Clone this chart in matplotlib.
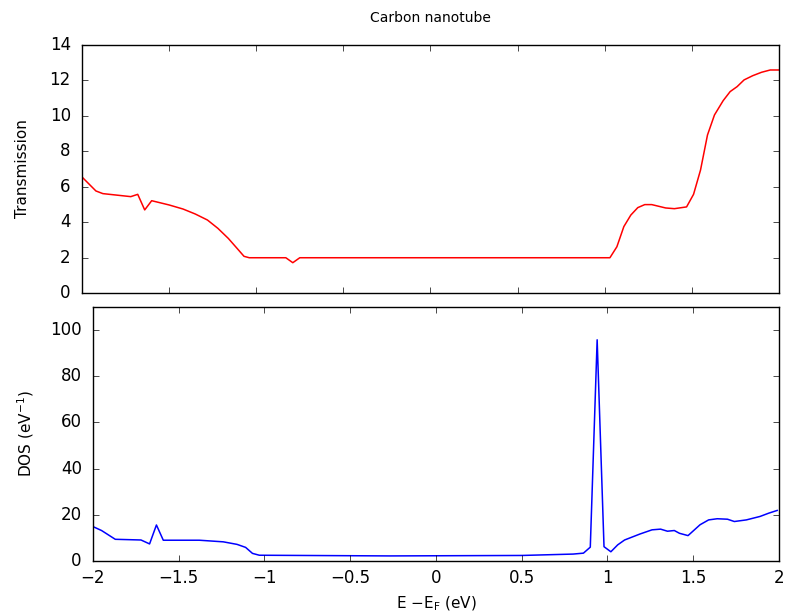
import matplotlib
matplotlib.use("Agg")
import matplotlib.pyplot as plt

# Transmission (top panel)
energy_t = [-2.00, -1.92, -1.88, -1.72, -1.68, -1.64, -1.60, -1.50, -1.42, -1.35,
            -1.28, -1.22, -1.16, -1.11, -1.07, -1.04, -0.83, -0.79, -0.75, 1.03,
            1.07, 1.11, 1.15, 1.19, 1.23, 1.27, 1.35, 1.40, 1.47, 1.51,
            1.55, 1.59, 1.63, 1.68, 1.72, 1.76, 1.80, 1.85, 1.90, 1.95, 2.00]
transmission = [6.55, 5.76, 5.61, 5.44, 5.57, 4.69, 5.21, 4.97, 4.74, 4.46,
                4.12, 3.65, 3.08, 2.52, 2.07, 1.99, 1.99, 1.71, 1.99, 1.99,
                2.61, 3.75, 4.40, 4.82, 4.99, 4.99, 4.80, 4.76, 4.86, 5.57,
                6.94, 8.92, 10.05, 10.86, 11.37, 11.65, 12.03, 12.27, 12.46, 12.59, 12.59]

# DOS (bottom panel)
energy_d = [-2.00, -1.95, -1.87, -1.72, -1.67, -1.63, -1.59, -1.38, -1.24, -1.16,
            -1.11, -1.07, -1.03, -0.27, 0.50, 0.80, 0.86, 0.90, 0.94, 0.98,
            1.02, 1.06, 1.10, 1.19, 1.26, 1.31, 1.35, 1.39, 1.42, 1.47,
            1.54, 1.59, 1.64, 1.70, 1.74, 1.81, 1.89, 1.94, 1.99]
dos = [14.9, 13.2, 9.4, 9.1, 7.4, 15.6, 9.0, 9.0, 8.3, 7.2,
       5.9, 3.3, 2.5, 2.2, 2.4, 3.0, 3.4, 6.0, 95.8, 6.2,
       4.0, 7.0, 9.1, 11.7, 13.5, 13.8, 12.9, 13.2, 12.0, 11.0,
       15.7, 17.8, 18.3, 18.1, 17.1, 17.8, 19.3, 20.7, 21.9]

title = "Carbon nanotube"
xticks = [-2, -1.5, -1, -0.5, 0, 0.5, 1, 1.5, 2]
xticklabels = ["\u22122", "\u22121.5", "\u22121", "\u22120.5", "0", "0.5", "1", "1.5", "2"]

plt.style.use("classic")
plt.rcParams["font.family"] = ["DejaVu Sans"]
plt.rcParams["mathtext.fontset"] = "dejavusans"

fig = plt.figure(figsize=(7.86, 6.15), dpi=100, facecolor="white")
ax1 = fig.add_axes([0.1043, 0.5236, 0.8867, 0.4032])
ax2 = fig.add_axes([0.1183, 0.0878, 0.8727, 0.4130])

ax1.plot(energy_t, transmission, color="red", lw=1.1)
ax1.set_xlim(-2, 2)
ax1.set_ylim(0, 14)
ax1.set_yticks(range(0, 15, 2))
ax1.set_xticks(xticks)
ax1.set_xticklabels([])
ax1.set_ylabel("Transmission", fontsize=11, labelpad=14)
ax1.set_title(title, fontsize=10, y=1.065)

ax2.plot(energy_d, dos, color="blue", lw=1.1)
ax2.set_xlim(-2, 2)
ax2.set_ylim(0, 110)
ax2.set_yticks(range(0, 101, 20))
ax2.set_xticks(xticks)
ax2.set_xticklabels(xticklabels)
ax2.set_ylabel("DOS (eV$^{-1}$)", fontsize=11, labelpad=10)
ax2.set_xlabel("E $-$E$_{\\rm F}$ (eV)", fontsize=11, labelpad=5)

for ax in (ax1, ax2):
    ax.set_facecolor("white")
    ax.tick_params(labelsize=12)
    ax.tick_params(axis="y", pad=8)
    ax.tick_params(axis="x", pad=6)

fig.savefig("out.png", dpi=100, facecolor="white")
